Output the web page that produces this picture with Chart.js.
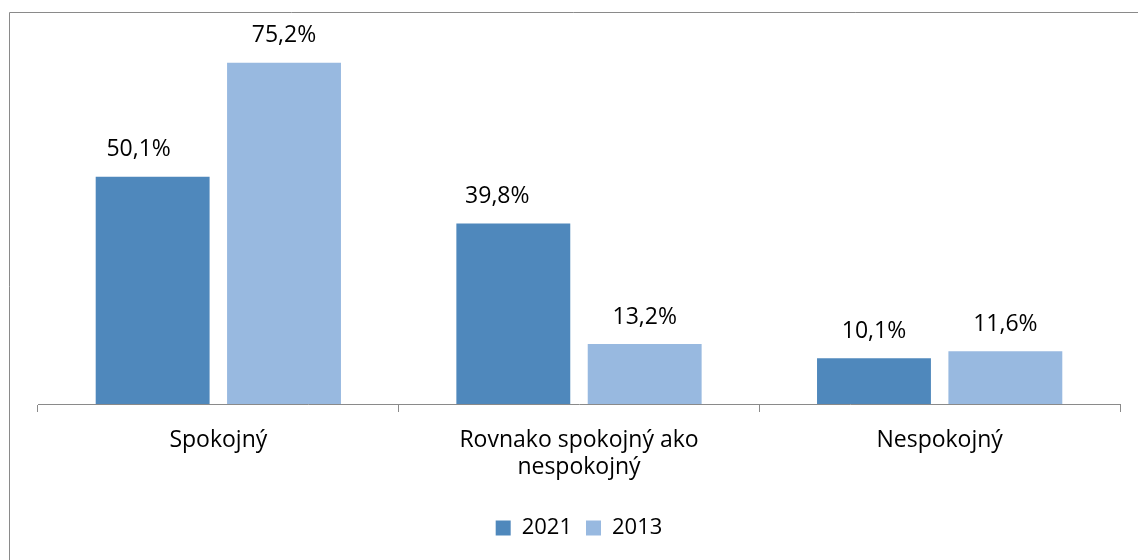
<!DOCTYPE html>
<html>
<head>
<meta charset="utf-8">
<script src="https://cdn.jsdelivr.net/npm/chart.js@4.4.1/dist/chart.umd.min.js"></script>
<style>
  html, body { margin: 0; padding: 0; background: #fff; }
  #wrap { position: relative; width: 1138px; height: 560px; }
</style>
</head>
<body>
<div id="wrap"><canvas id="c" width="1138" height="560"></canvas></div>
<script>
const categories = ['Spokojný', ['Rovnako spokojný ako', 'nespokojný'], 'Nespokojný'];
const seriesNames = ['2021', '2013'];
const values2021 = [50.1, 39.8, 10.1];
const values2013 = [75.2, 13.2, 11.6];
const colors = ['#4F88BC', '#98B9E0'];

const FONT = '"Open Sans", sans-serif';

const frame = {
  id: 'frame',
  beforeDraw(chart) {
    const ctx = chart.ctx;
    ctx.save();
    ctx.strokeStyle = '#8a8a8a';
    ctx.lineWidth = 1;
    ctx.beginPath();
    ctx.moveTo(9.5, 560);
    ctx.lineTo(9.5, 12.5);
    ctx.lineTo(1138, 12.5);
    ctx.stroke();
    ctx.restore();
  }
};

const valueLabels = {
  id: 'valueLabels',
  afterDatasetsDraw(chart, args, opts) {
    const ctx = chart.ctx;
    const shifts = opts.shiftX || [];
    ctx.save();
    ctx.font = '23px ' + FONT;
    ctx.fillStyle = '#000';
    ctx.textAlign = 'center';
    ctx.textBaseline = 'middle';
    chart.data.datasets.forEach((ds, i) => {
      chart.getDatasetMeta(i).data.forEach((bar, j) => {
        const txt = ds.data[j].toFixed(1).replace('.', ',') + '%';
        const dx = (shifts[i] && shifts[i][j]) || 0;
        ctx.fillText(txt, bar.x + dx, bar.y - 27);
      });
    });
    ctx.restore();
  }
};

new Chart(document.getElementById('c'), {
  type: 'bar',
  data: {
    labels: categories,
    datasets: [
      { label: seriesNames[0], data: values2021, backgroundColor: colors[0] },
      { label: seriesNames[1], data: values2013, backgroundColor: colors[1] }
    ]
  },
  options: {
    responsive: false,
    animation: false,
    devicePixelRatio: 1,
    categoryPercentage: 0.7285,
    barPercentage: 0.867,
    layout: { padding: { left: 38, right: 18, top: 41, bottom: 11 } },
    plugins: {
      valueLabels: { shiftX: [[-14, -16, 0], [0, 0, 0]] },
      legend: {
        position: 'bottom',
        labels: {
          font: { family: FONT, size: 22 },
          color: '#000',
          boxWidth: 15,
          boxHeight: 15,
          padding: 14
        }
      },
      tooltip: { enabled: false }
    },
    scales: {
      x: {
        offset: true,
        grid: {
          offset: true,
          drawOnChartArea: false,
          drawTicks: true,
          tickLength: 8,
          color: '#8a8a8a'
        },
        border: { color: '#8a8a8a', width: 1 },
        ticks: {
          font: { family: FONT, size: 23, lineHeight: 1.17 },
          color: '#000',
          padding: 15,
          maxRotation: 0,
          autoSkip: false
        },
        afterFit(scale) { scale.height = 99; }
      },
      y: {
        display: false,
        min: 0,
        max: 80
      }
    }
  },
  plugins: [frame, valueLabels]
});
</script>
</body>
</html>
